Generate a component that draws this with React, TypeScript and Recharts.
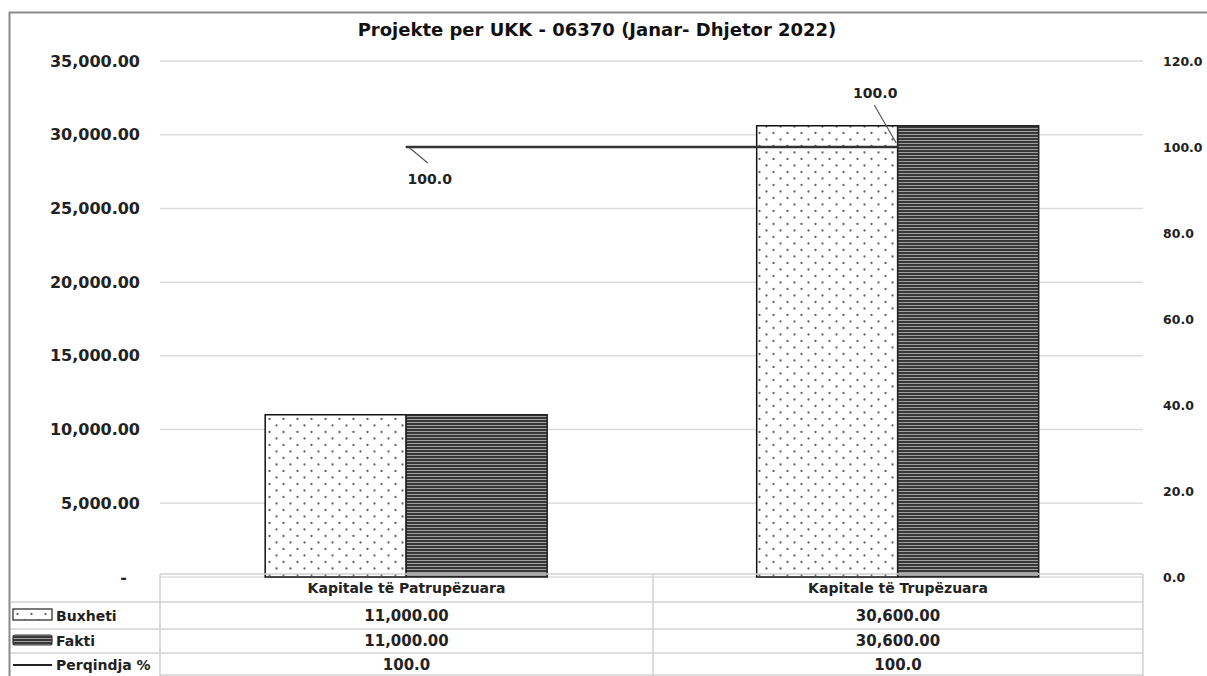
import { ComposedChart, Bar, Line, XAxis, YAxis, CartesianGrid, LabelList } from 'recharts'

const title = 'Projekte per UKK - 06370 (Janar- Dhjetor 2022)'
const categories = ['Kapitale të Patrupëzuara', 'Kapitale të Trupëzuara']
const buxheti = [11000, 30600]
const fakti = [11000, 30600]
const perqindja = [100, 100]
const leftTicks = [0, 5000, 10000, 15000, 20000, 25000, 30000, 35000]
const rightTicks = [0, 20, 40, 60, 80, 100, 120]
const seriesNames = ['Buxheti', 'Fakti', 'Perqindja %']

const data = categories.map((name, i) => ({
  name,
  buxheti: buxheti[i],
  fakti: fakti[i],
  perqindja: perqindja[i],
}))

const FONT = "'DejaVu Sans', Verdana, sans-serif"

const fmtMoney = (v: number) =>
  v.toLocaleString('en-US', { minimumFractionDigits: 2, maximumFractionDigits: 2 })
const fmtPct = (v: number) => v.toFixed(1)

function LeftTick({ x, y, payload }: any) {
  const v = payload.value as number
  if (v === 0) {
    return (
      <text x={x - 13} y={y} textAnchor="end" dominantBaseline="central" fontFamily={FONT} fontSize={16} fontWeight="bold" fill="#222">
        -
      </text>
    )
  }
  return (
    <text x={x} y={y} textAnchor="end" dominantBaseline="central" fontFamily={FONT} fontSize={16} fontWeight="bold" fill="#222">
      {fmtMoney(v)}
    </text>
  )
}

function RightTick({ x, y, payload }: any) {
  return (
    <text x={x} y={y} textAnchor="start" dominantBaseline="central" fontFamily={FONT} fontSize={12.5} fontWeight="bold" fill="#222">
      {fmtPct(payload.value)}
    </text>
  )
}

// first point label sits below-right, second above-left, both with a leader line
function PctLabel({ x, y, value, index }: any) {
  if (index === 0) {
    return (
      <g>
        <line x1={x + 4} y1={y + 1} x2={x + 22} y2={y + 16} stroke="#555" strokeWidth={1.2} />
        <text x={x + 24} y={y + 32} textAnchor="middle" dominantBaseline="central" fontFamily={FONT} fontSize={14} fontWeight="bold" fill="#222">
          {fmtPct(value)}
        </text>
      </g>
    )
  }
  return (
    <g>
      <line x1={x - 1} y1={y - 4} x2={x - 23} y2={y - 42} stroke="#555" strokeWidth={1.2} />
      <text x={x - 22} y={y - 54} textAnchor="middle" dominantBaseline="central" fontFamily={FONT} fontSize={14} fontWeight="bold" fill="#222">
        {fmtPct(value)}
      </text>
    </g>
  )
}

function Patterns({ suffix }: { suffix: string }) {
  return (
    <defs>
      <pattern id={`dots${suffix}`} width="14" height="13" patternUnits="userSpaceOnUse">
        <rect width="14" height="13" fill="#fff" />
        <circle cx="3.5" cy="3" r="1.15" fill="#666" />
        <circle cx="10.5" cy="9.5" r="1.15" fill="#666" />
      </pattern>
      <pattern id={`stripes${suffix}`} width="6" height="3" patternUnits="userSpaceOnUse">
        <rect width="6" height="3" fill="#a0a0a0" />
        <rect width="6" height="2" fill="#383838" />
      </pattern>
    </defs>
  )
}

const colX = [160, 653, 1143]
const rowY = [574, 602, 629, 653, 676]

function DataTable() {
  const centers = [0, 1].map((i) => (colX[i] + colX[i + 1]) / 2)
  const rowsValues = [buxheti.map(fmtMoney), fakti.map(fmtMoney), perqindja.map(fmtPct)]
  const grid = '#d2d2d2'
  return (
    <svg width={1207} height={676} style={{ position: 'absolute', left: 0, top: 0, pointerEvents: 'none' }}>
      <Patterns suffix="-t" />
      {/* frame */}
      <line x1={9.5} y1={12} x2={9.5} y2={676} stroke="#8a8a8a" strokeWidth={2} />
      <line x1={9} y1={12.5} x2={1207} y2={12.5} stroke="#8a8a8a" strokeWidth={2} />
      <text x={597} y={29} textAnchor="middle" dominantBaseline="central" fontFamily={FONT} fontSize={18} fontWeight="bold" fill="#111">
        {title}
      </text>
      {/* table grid */}
      <line x1={colX[0]} y1={rowY[0]} x2={colX[2]} y2={rowY[0]} stroke={grid} strokeWidth={1.5} />
      {rowY.slice(1, 4).map((y) => (
        <line key={y} x1={11} y1={y} x2={colX[2]} y2={y} stroke={grid} strokeWidth={1.5} />
      ))}
      <line x1={colX[0]} y1={675} x2={colX[2]} y2={675} stroke={grid} strokeWidth={1.5} />
      {colX.map((x) => (
        <line key={x} x1={x} y1={rowY[0]} x2={x} y2={676} stroke={grid} strokeWidth={1.5} />
      ))}
      {/* header */}
      {categories.map((c, i) => (
        <text key={c} x={centers[i]} y={(rowY[0] + rowY[1]) / 2} textAnchor="middle" dominantBaseline="central" fontFamily={FONT} fontSize={14} fontWeight="bold" fill="#222">
          {c}
        </text>
      ))}
      {/* legend keys */}
      <rect x={13} y={609} width={39} height={11} fill="url(#dots-t)" stroke="#222" strokeWidth={1.2} />
      <rect x={13} y={635} width={39} height={10} rx={2} fill="url(#stripes-t)" stroke="#333" strokeWidth={1.2} />
      <line x1={13} y1={665} x2={52} y2={665} stroke="#222" strokeWidth={2} />
      {seriesNames.map((s, r) => (
        <text key={s} x={56} y={(rowY[r + 1] + rowY[r + 2]) / 2} dominantBaseline="central" fontFamily={FONT} fontSize={14} fontWeight="bold" fill="#222">
          {s}
        </text>
      ))}
      {rowsValues.map((vals, r) =>
        vals.map((v, i) => (
          <text key={`${r}-${i}`} x={centers[i]} y={(rowY[r + 1] + rowY[r + 2]) / 2} textAnchor="middle" dominantBaseline="central" fontFamily={FONT} fontSize={15} fontWeight="bold" fill="#222">
            {v}
          </text>
        ))
      )}
    </svg>
  )
}

export default function App() {
  return (
    <div style={{ position: 'absolute', left: 0, top: 0, width: 1207, height: 676, background: '#fff', fontFamily: FONT }}>
      <ComposedChart
        width={1207}
        height={676}
        data={data}
        margin={{ top: 61, right: 0, bottom: 99, left: 0 }}
        barCategoryGap="21.4%"
        barGap={0}
      >
        <Patterns suffix="" />
        <CartesianGrid yAxisId="left" vertical={false} stroke="#dcdcdc" strokeWidth={1.5} />
        <XAxis dataKey="name" hide />
        <YAxis
          yAxisId="left"
          width={160}
          domain={[0, 35000]}
          ticks={leftTicks}
          axisLine={false}
          tickLine={false}
          tickMargin={14}
          tick={<LeftTick />}
          interval={0}
        />
        <YAxis
          yAxisId="right"
          orientation="right"
          width={64}
          domain={[0, 120]}
          ticks={rightTicks}
          axisLine={false}
          tickLine={false}
          tickMargin={14}
          tick={<RightTick />}
          interval={0}
        />
        <Bar yAxisId="left" dataKey="buxheti" fill="url(#dots)" stroke="#111" strokeWidth={1.5} isAnimationActive={false} />
        <Bar yAxisId="left" dataKey="fakti" fill="url(#stripes)" stroke="#222" strokeWidth={1.5} isAnimationActive={false} />
        <Line yAxisId="right" dataKey="perqindja" stroke="#333" strokeWidth={2.5} dot={false} isAnimationActive={false}>
          <LabelList dataKey="perqindja" content={<PctLabel />} />
        </Line>
      </ComposedChart>
      <DataTable />
    </div>
  )
}
